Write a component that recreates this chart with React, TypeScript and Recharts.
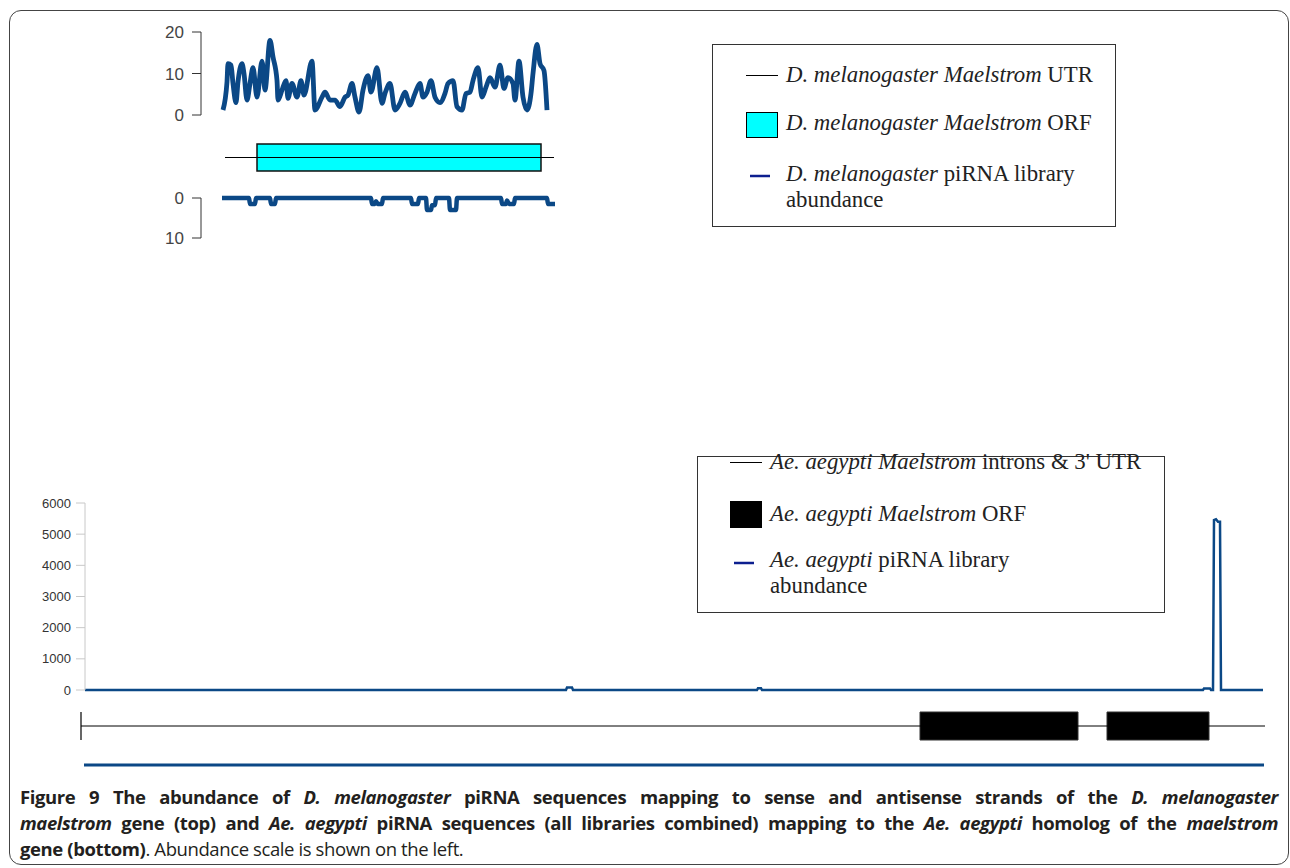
import React from 'react';
import { LineChart, Line, XAxis, YAxis, ReferenceArea, ReferenceLine } from 'recharts';

// D. melanogaster maelstrom: position along gene (arbitrary units) and read counts
const dmSensePos = [1, 5, 6, 9, 11, 14, 16, 20, 22, 25, 28, 31, 35, 40, 43, 48, 51, 55, 56, 60, 64, 66, 70, 75, 79, 82, 90, 93, 100, 103, 108, 113, 118, 123, 126, 130, 133, 137, 141, 146, 149, 155, 160, 163, 168, 173, 178, 183, 188, 193, 198, 201, 205, 209, 213, 218, 223, 226, 231, 235, 240, 244, 248, 251, 256, 260, 264, 268, 273, 278, 282, 286, 291, 293, 297, 301, 305, 309, 311, 315, 318, 322, 325];
const dmSenseVal = [1.2, 8, 12.4, 12, 7.6, 3, 8, 12.4, 10, 3.6, 7.6, 11.4, 4.3, 13, 6, 18, 14, 8.3, 3.6, 6, 8.3, 4, 7.6, 4.3, 8.3, 4.8, 13, 1.2, 4.3, 5.5, 3.6, 3.6, 2, 4.3, 4.8, 7.6, 4.3, 0.7, 6, 9.5, 5.5, 11.4, 2.8, 5.2, 7.6, 1.2, 2.8, 5.5, 2.4, 5.2, 7.6, 4.3, 5.5, 8.3, 4.3, 3, 5.2, 7.6, 8.3, 2, 1.2, 5.2, 5.5, 8.3, 11.4, 4.3, 6.7, 9, 6.7, 12, 6.4, 9, 7.6, 3.6, 13, 4.3, 1.2, 5.2, 10, 17, 12.4, 10.7, 1.2];

const dmAntiPos = [0, 27, 28, 33, 34, 48, 49, 53, 54, 149, 150, 153, 154, 156, 160, 161, 189, 190, 196, 197, 204, 205, 209, 210, 213, 214, 227, 228, 234, 235, 279, 280, 284, 285, 287, 292, 293, 325, 326, 333];
const dmAntiVal = [0, 0, 1.5, 1.5, 0, 0, 1.5, 1.5, 0, 0, 1.5, 1.5, 0.8, 1.5, 1.5, 0, 0, 1.5, 1.5, 0, 0, 3, 3, 1.8, 1.8, 0, 0, 3, 3, 0, 0, 1.5, 1.5, 0.6, 1.5, 1.5, 0, 0, 1.5, 1.5];

const dmGeneSpan = [3, 332];
const dmOrf = [35, 319];
const dmTicks = [0, 10, 20];
const dmAntiTicks = [0, 10];

// Ae. aegypti maelstrom
const aeSensePos = [0, 481, 482, 487, 488, 672, 673, 676, 677, 1118, 1119, 1125, 1126, 1128, 1129, 1131, 1133, 1135, 1136, 1178];
const aeSenseVal = [0, 0, 80, 80, 0, 0, 60, 60, 0, 0, 50, 50, 0, 0, 5450, 5480, 5400, 5400, 0, 0];
const aeAntiPos = [0, 1180];
const aeAntiVal = [0, 0];
const aeGeneSpan = [-4, 1180];
const aeOrfs = [[835, 993], [1022, 1124]];
const aeTicks = [0, 1000, 2000, 3000, 4000, 5000, 6000];

const traceColor = '#0b4886';
const legendBlue = '#0c1f8f';

const toRows = (pos: number[], val: number[]) => pos.map((p, i) => ({ pos: p, v: val[i] }));

const abs = (left: number, top: number, width: number, height: number): React.CSSProperties => ({
  position: 'absolute', left, top, width, height,
});

const serif = '"Liberation Serif", "Times New Roman", serif';
const sans = '"Liberation Sans", Arial, sans-serif';

function LegendText({ left, center, italic, rest, second }: { left: number; center: number; italic: string; rest: string; second?: string }) {
  return (
    <div style={{ position: 'absolute', left, top: center - 13, lineHeight: '26px', fontFamily: serif, fontSize: 22.8, color: '#222', whiteSpace: 'nowrap' }}>
      <i>{italic}</i>{rest}
      {second && <><br />{second}</>}
    </div>
  );
}

export default function App() {
  const dmSense = toRows(dmSensePos, dmSenseVal);
  const dmAnti = toRows(dmAntiPos, dmAntiVal);
  const aeSense = toRows(aeSensePos, aeSenseVal);
  const aeAnti = toRows(aeAntiPos, aeAntiVal);
  const dmGene = [{ pos: dmGeneSpan[0], v: 0.5 }, { pos: dmGeneSpan[1], v: 0.5 }];
  const aeGene = [{ pos: aeGeneSpan[0], v: 0.5 }, { pos: aeGeneSpan[1], v: 0.5 }];

  const topDomain: [number, number] = [-21, 335];
  const botDomain: [number, number] = [0, 1179];

  return (
    <div style={{ position: 'absolute', left: 0, top: 0, width: 1290, height: 868, background: '#fff', overflow: 'hidden' }}>
      {/* figure frame */}
      <div style={{ ...abs(9, 10, 1280, 855), border: '1.5px solid #444', borderRadius: 12, boxSizing: 'border-box' }} />

      {/* D. melanogaster sense strand */}
      <div style={abs(120, 22, 437, 105)}>
        <LineChart width={437} height={105} data={dmSense} margin={{ top: 10, right: 0, bottom: 12, left: 0 }}>
          <XAxis dataKey="pos" type="number" domain={topDomain} hide />
          <YAxis type="number" domain={[0, 20]} ticks={dmTicks} interval={0} width={81} tickSize={9} tickMargin={8}
            stroke="#333" tick={{ fill: '#444', fontSize: 17, fontFamily: sans }} />
          <Line dataKey="v" type="monotone" dot={false} stroke={traceColor} strokeWidth={4.8} strokeLinejoin="round" isAnimationActive={false} />
        </LineChart>
      </div>

      {/* D. melanogaster gene model */}
      <div style={abs(201, 142, 356, 31)}>
        <LineChart width={356} height={31} data={dmGene} margin={{ top: 2, right: 0, bottom: 2, left: 0 }}>
          <XAxis dataKey="pos" type="number" domain={topDomain} hide />
          <YAxis type="number" domain={[0, 1]} hide />
          <Line dataKey="v" type="linear" dot={false} stroke="#000" strokeWidth={1} isAnimationActive={false} />
          <ReferenceArea x1={dmOrf[0]} x2={dmOrf[1]} y1={0} y2={1} fill="#00ffff" fillOpacity={1} stroke="#111" strokeWidth={1.5} />
        </LineChart>
      </div>

      {/* D. melanogaster antisense strand */}
      <div style={abs(120, 186, 437, 64)}>
        <LineChart width={437} height={64} data={dmAnti} margin={{ top: 12, right: 0, bottom: 12, left: 0 }}>
          <XAxis dataKey="pos" type="number" domain={topDomain} hide />
          <YAxis type="number" domain={[0, 10]} ticks={dmAntiTicks} interval={0} reversed width={81} tickSize={9} tickMargin={8}
            stroke="#333" tick={{ fill: '#444', fontSize: 17, fontFamily: sans }} />
          <Line dataKey="v" type="monotone" dot={false} stroke={traceColor} strokeWidth={4.5} strokeLinejoin="round" isAnimationActive={false} />
        </LineChart>
      </div>

      {/* top legend */}
      <div style={{ ...abs(712, 44, 404, 183), border: '1px solid #333', boxSizing: 'border-box' }} />
      <svg style={abs(740, 60, 45, 130)} width={45} height={130}>
        <line x1={6} x2={38} y1={15.5} y2={15.5} stroke="#000" strokeWidth={1} />
        <rect x={6.5} y={52.5} width={31} height={25} fill="#00ffff" stroke="#000" strokeWidth={1} />
        <line x1={10} x2={30} y1={116} y2={116} stroke={legendBlue} strokeWidth={2.5} />
      </svg>
      <LegendText left={786} center={75} italic="D. melanogaster Maelstrom" rest=" UTR" />
      <LegendText left={786} center={123} italic="D. melanogaster Maelstrom" rest=" ORF" />
      <LegendText left={786} center={174} italic="D. melanogaster" rest=" piRNA library" second="abundance" />

      {/* Ae. aegypti sense strand */}
      <div style={abs(0, 491, 1264, 211)}>
        <LineChart width={1264} height={211} data={aeSense} margin={{ top: 12, right: 0, bottom: 12, left: 0 }}>
          <XAxis dataKey="pos" type="number" domain={botDomain} hide />
          <YAxis type="number" domain={[0, 6000]} ticks={aeTicks} interval={0} width={85} tickSize={9} tickMargin={5}
            stroke="#c8c8c8" tick={{ fill: '#333', fontSize: 13, fontFamily: sans }} />
          <Line dataKey="v" type="linear" dot={false} stroke={traceColor} strokeWidth={2.5} isAnimationActive={false} />
        </LineChart>
      </div>

      {/* Ae. aegypti gene model */}
      <div style={abs(80, 710, 1185, 32)}>
        <LineChart width={1185} height={32} data={aeGene} margin={{ top: 2, right: 0, bottom: 2, left: 0 }}>
          <XAxis dataKey="pos" type="number" domain={[-5, 1180]} hide />
          <YAxis type="number" domain={[0, 1]} hide />
          <Line dataKey="v" type="linear" dot={false} stroke="#000" strokeWidth={1} isAnimationActive={false} />
          <ReferenceLine x={aeGeneSpan[0]} stroke="#000" strokeWidth={1.2} />
          {aeOrfs.map((o, i) => (
            <ReferenceArea key={i} x1={o[0]} x2={o[1]} y1={0} y2={1} fill="#000" fillOpacity={1} stroke="#333" strokeWidth={1} />
          ))}
        </LineChart>
      </div>

      {/* Ae. aegypti antisense strand */}
      <div style={abs(0, 755, 1266, 20)}>
        <LineChart width={1266} height={20} data={aeAnti} margin={{ top: 10, right: 2, bottom: 5, left: 84 }}>
          <XAxis dataKey="pos" type="number" domain={[0, 1180]} hide />
          <YAxis type="number" domain={[0, 6000]} reversed hide />
          <Line dataKey="v" type="linear" dot={false} stroke={traceColor} strokeWidth={3} isAnimationActive={false} />
        </LineChart>
      </div>

      {/* bottom legend */}
      <div style={{ ...abs(697, 456, 468, 157), border: '1px solid #333', boxSizing: 'border-box' }} />
      <svg style={abs(725, 450, 45, 130)} width={45} height={130}>
        <line x1={5} x2={37} y1={12.5} y2={12.5} stroke="#000" strokeWidth={1} />
        <rect x={5} y={51} width={32} height={27} fill="#000" />
        <line x1={9} x2={29} y1={113} y2={113} stroke={legendBlue} strokeWidth={2.5} />
      </svg>
      <LegendText left={770} center={462} italic="Ae. aegypti Maelstrom" rest=" introns & 3' UTR" />
      <LegendText left={770} center={514} italic="Ae. aegypti Maelstrom" rest=" ORF" />
      <LegendText left={770} center={560} italic="Ae. aegypti" rest=" piRNA library" second="abundance" />

      {/* caption */}
      <div style={{ position: 'absolute', left: 20, top: 784, width: 1258, fontFamily: '"Open Sans", sans-serif', fontSize: 18.5, lineHeight: '26px', color: '#231f20', letterSpacing: -0.4 }}>
        <div style={{ textAlign: 'justify', textAlignLast: 'justify', whiteSpace: 'nowrap', fontWeight: 700 }}>
          Figure 9 The abundance of <i>D. melanogaster</i> piRNA sequences mapping to sense and antisense strands of the <i>D. melanogaster</i>
        </div>
        <div style={{ textAlign: 'justify', textAlignLast: 'justify', whiteSpace: 'nowrap', fontWeight: 700 }}>
          <i>maelstrom</i> gene (top) and <i>Ae. aegypti</i> piRNA sequences (all libraries combined) mapping to the <i>Ae. aegypti</i> homolog of the <i>maelstrom</i>
        </div>
        <div>
          <b>gene (bottom)</b>. Abundance scale is shown on the left.
        </div>
      </div>
    </div>
  );
}
